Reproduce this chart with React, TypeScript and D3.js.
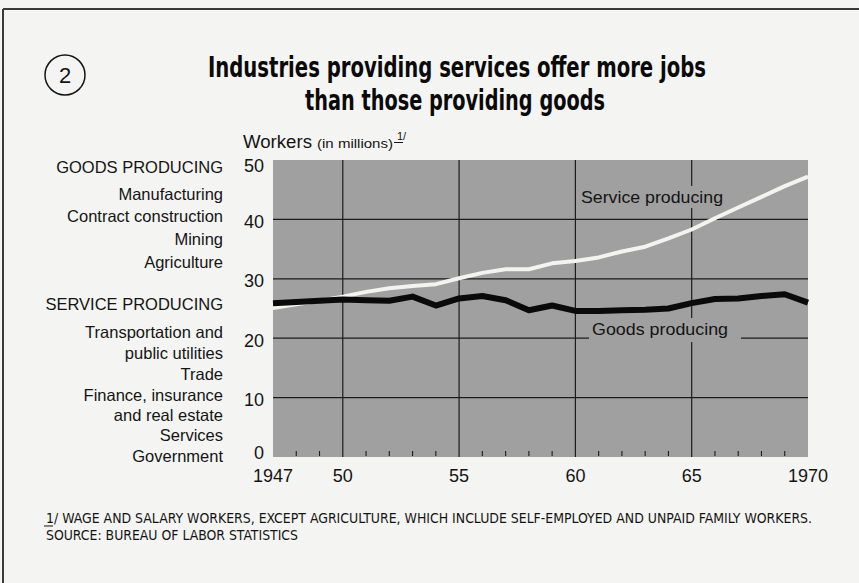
import React from "react";
import * as d3 from "d3";

const years = [1947, 1948, 1949, 1950, 1951, 1952, 1953, 1954, 1955, 1956, 1957, 1958, 1959, 1960, 1961, 1962, 1963, 1964, 1965, 1966, 1967, 1968, 1969, 1970];
const goodsProducing = [25.9, 26.1, 26.3, 26.5, 26.4, 26.3, 27.0, 25.5, 26.7, 27.1, 26.4, 24.7, 25.5, 24.6, 24.6, 24.7, 24.8, 25.0, 25.9, 26.6, 26.7, 27.1, 27.4, 26.0];
const serviceProducing = [25.1, 25.7, 26.3, 27.0, 27.8, 28.4, 28.8, 29.1, 30.1, 31.0, 31.6, 31.6, 32.6, 33.0, 33.6, 34.6, 35.4, 36.8, 38.3, 40.2, 42.0, 43.8, 45.6, 47.2];
const yTicks = [0, 10, 20, 30, 40, 50];
const xMajor = [1950, 1955, 1960, 1965];
const xLabels = [
  { year: 1947, label: "1947" },
  { year: 1950, label: "50" },
  { year: 1955, label: "55" },
  { year: 1960, label: "60" },
  { year: 1965, label: "65" },
  { year: 1970, label: "1970" },
];
const leftLabels = [
  "GOODS PRODUCING",
  "Manufacturing",
  "Contract construction",
  "Mining",
  "Agriculture",
  "SERVICE PRODUCING",
  "Transportation and",
  "public utilities",
  "Trade",
  "Finance, insurance",
  "and real estate",
  "Services",
  "Government",
];
const leftBaselines = [173, 200, 222, 245, 268, 310, 338, 359, 380, 401, 421, 441, 462];

const W = 859;
const H = 583;
const plot = { left: 273, right: 808, top: 160, bottom: 457 };
const sans = "'Liberation Sans', Arial, Helvetica, sans-serif";
const narrow = "'Liberation Sans Narrow', 'DejaVu Sans Condensed', 'Liberation Sans', sans-serif";
const plotFill = "#a0a0a0";

export default function App() {
  const x = d3.scaleLinear().domain([1947, 1970]).range([plot.left, plot.right]);
  const y = d3.scaleLinear().domain([0, 50]).range([plot.bottom, plot.top]);
  const line = d3
    .line<number>()
    .x((_, i) => x(years[i]))
    .y((d) => y(d))
    .curve(d3.curveLinear);

  const minorYears = years.filter((yr) => yr % 5 !== 0 && yr !== 1947 && yr !== 1970);
  const grid = "#1c1c1c";
  const ink = "#141414";

  return (
    <svg
      width={W}
      height={H}
      style={{ position: "absolute", left: 0, top: 0, background: "#f4f4f2" }}
    >
      <rect x={0} y={0} width={W} height={H} fill="#f4f4f2" />
      {/* frame */}
      <line x1={3} x2={3} y1={9} y2={H} stroke="#3a3a3a" strokeWidth={2} />
      <line x1={3} x2={W} y1={9} y2={9} stroke="#3a3a3a" strokeWidth={2} />

      {/* chart number */}
      <circle cx={65} cy={75} r={20} fill="none" stroke={ink} strokeWidth={1.5} />
      <text x={65} y={83} textAnchor="middle" fontFamily={sans} fontSize={22} fill={ink}>2</text>

      {/* title */}
      <text x={457} y={77} textAnchor="middle" fontFamily={narrow} fontWeight="bold" fontSize={28} fill="#0a0a0a" textLength={498} lengthAdjust="spacingAndGlyphs">
        Industries providing services offer more jobs
      </text>
      <text x={455} y={110} textAnchor="middle" fontFamily={narrow} fontWeight="bold" fontSize={28} fill="#0a0a0a" textLength={300} lengthAdjust="spacingAndGlyphs">
        than those providing goods
      </text>

      {/* y axis title */}
      <text x={243} y={148} fontFamily={sans} fontSize={17.5} fill={ink} textLength={69} lengthAdjust="spacingAndGlyphs">Workers</text>
      <text x={317} y={148} fontFamily={sans} fontSize={13.5} fill={ink} textLength={76} lengthAdjust="spacingAndGlyphs">(in millions)</text>
      <text x={397} y={140} fontFamily={sans} fontSize={11} fill={ink}>1/</text>
      <line x1={394} x2={403} y1={142.5} y2={142.5} stroke={ink} strokeWidth={1} />

      {/* plot background */}
      <rect x={plot.left} y={plot.top} width={plot.right - plot.left} height={plot.bottom - plot.top} fill={plotFill} />

      {/* horizontal gridlines */}
      {yTicks.filter((t) => t > 0 && t < 50).map((t) => (
        <line key={"h" + t} x1={plot.left} x2={plot.right} y1={y(t)} y2={y(t)} stroke={grid} strokeWidth={1.2} />
      ))}
      {/* vertical gridlines */}
      {xMajor.map((yr) => (
        <line key={"v" + yr} x1={x(yr)} x2={x(yr)} y1={plot.top} y2={plot.bottom} stroke={grid} strokeWidth={1.2} />
      ))}
      {/* minor ticks */}
      {minorYears.map((yr) => (
        <line key={"m" + yr} x1={x(yr)} x2={x(yr)} y1={plot.bottom - 1} y2={plot.bottom - 6} stroke={grid} strokeWidth={1.1} />
      ))}

      {/* series labels with knock-out backgrounds */}
      <rect x={577} y={186} width={150} height={22} fill={plotFill} />
      <text x={581} y={203} fontFamily={sans} fontSize={16.5} fill={ink} textLength={142} lengthAdjust="spacingAndGlyphs">Service producing</text>
      <rect x={589} y={318} width={152} height={24} fill={plotFill} />
      <text x={592} y={335} fontFamily={sans} fontSize={16.5} fill={ink} textLength={136} lengthAdjust="spacingAndGlyphs">Goods producing</text>

      {/* lines */}
      <path d={line(serviceProducing) || ""} fill="none" stroke="#f3f3f1" strokeWidth={4} strokeLinejoin="round" />
      <path d={line(goodsProducing) || ""} fill="none" stroke="#0a0a0a" strokeWidth={6} strokeLinejoin="round" />

      {/* y tick labels */}
      {yTicks.map((t) => {
        const off = t === 50 ? 6 : t === 0 ? -4 : 2;
        return (
          <text key={"yl" + t} x={264} y={y(t) + off} dy="0.35em" textAnchor="end" fontFamily={sans} fontSize={18} fill={ink}>
            {t}
          </text>
        );
      })}

      {/* x tick labels */}
      {xLabels.map((d) => (
        <text key={"xl" + d.year} x={x(d.year)} y={482} textAnchor="middle" fontFamily={sans} fontSize={18} fill={ink}>
          {d.label}
        </text>
      ))}

      {/* left category labels */}
      {leftLabels.map((t, i) => (
        <text key={"ll" + i} x={223} y={leftBaselines[i]} textAnchor="end" fontFamily={sans} fontSize={16.5} fill={ink}>
          {t}
        </text>
      ))}

      {/* footnotes */}
      <text x={46} y={523} fontFamily={narrow} fontSize={14.5} fill={ink} textLength={766} lengthAdjust="spacingAndGlyphs">
        1/ WAGE AND SALARY WORKERS, EXCEPT AGRICULTURE, WHICH INCLUDE SELF-EMPLOYED AND UNPAID FAMILY WORKERS.
      </text>
      <line x1={44} x2={53} y1={526} y2={526} stroke={ink} strokeWidth={1} />
      <text x={46} y={540} fontFamily={narrow} fontSize={14.5} fill={ink} textLength={252} lengthAdjust="spacingAndGlyphs">
        SOURCE: BUREAU OF LABOR STATISTICS
      </text>
    </svg>
  );
}
